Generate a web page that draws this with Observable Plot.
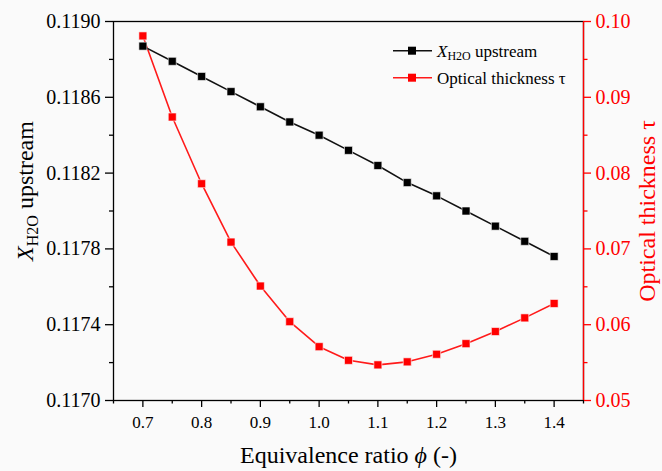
<!DOCTYPE html>
<html>
<head>
<meta charset="utf-8">
<script src="https://cdn.jsdelivr.net/npm/d3@7"></script>
<script src="https://cdn.jsdelivr.net/npm/@observablehq/plot@0.6"></script>
<style>
  html, body { margin: 0; padding: 0; background: #fafafa; }
  #chart svg { display: block; font-family: 'Liberation Serif', 'Times New Roman', serif !important; }
</style>
</head>
<body>
<div id="chart"></div>
<script>
// ---- data ----
const phi = [0.70, 0.75, 0.80, 0.85, 0.90, 0.95, 1.00, 1.05, 1.10, 1.15, 1.20, 1.25, 1.30, 1.35, 1.40];
const xH2O = [0.11887, 0.11879, 0.11871, 0.11863, 0.11855, 0.11847, 0.11840, 0.11832, 0.11824, 0.11815, 0.11808, 0.11800, 0.11792, 0.11784, 0.11776];
const tau = [0.0981, 0.0874, 0.0786, 0.0709, 0.0651, 0.0604, 0.0571, 0.0553, 0.0547, 0.0551, 0.0561, 0.0575, 0.0591, 0.0609, 0.0628];

const xTicks = [0.7, 0.8, 0.9, 1.0, 1.1, 1.2, 1.3, 1.4];
const xMinor = [0.65, 0.75, 0.85, 0.95, 1.05, 1.15, 1.25, 1.35, 1.45];
const yLeftTicks = [0.1170, 0.1174, 0.1178, 0.1182, 0.1186, 0.1190];
const yLeftMinor = [0.1172, 0.1176, 0.1180, 0.1184, 0.1188];
const yRightTicks = [0.05, 0.06, 0.07, 0.08, 0.09, 0.10];
const yRightMinor = [0.055, 0.065, 0.075, 0.085, 0.095];

const leftDomain = [0.1170, 0.1190];
const rightDomain = [0.05, 0.10];
const xDomain = [0.65, 1.45];

const xLabel = "Equivalence ratio \u03D5 (-)";
const yLeftLabel = "XH2O upstream";
const yRightLabel = "Optical thickness \u03C4";
const legendLabels = ["XH2O upstream", "Optical thickness \u03C4"];

// map right-axis values onto the left scale
const k = (leftDomain[1] - leftDomain[0]) / (rightDomain[1] - rightDomain[0]);
const toLeft = t => leftDomain[0] + (t - rightDomain[0]) * k;
const toRight = v => rightDomain[0] + (v - leftDomain[0]) / k;

const rowsX = phi.map((p, i) => ({phi: p, v: xH2O[i]}));
const rowsT = phi.map((p, i) => ({phi: p, v: toLeft(tau[i])}));

const FONT = "'Liberation Serif', 'Times New Roman', serif";

const chart = Plot.plot({
  width: 662,
  height: 471,
  marginLeft: 113,
  marginRight: 79,
  marginTop: 21,
  marginBottom: 71,
  style: {background: "#fafafa", color: "black"},
  x: {domain: xDomain},
  y: {domain: leftDomain},
  marks: [
    Plot.frame({stroke: "black", strokeWidth: 1.3}),
    Plot.ruleX([xDomain[1]], {stroke: "red", strokeWidth: 1.3}),
    // bottom axis
    Plot.axisX(xTicks, {tickSize: 7, tickPadding: 8, strokeWidth: 1.3, fontSize: 17, tickFormat: d => d.toFixed(1), label: null}),
    Plot.axisX(xMinor, {tickSize: 3.5, strokeWidth: 1.3, tickFormat: () => "", label: null}),
    // left axis
    Plot.axisY(yLeftTicks, {anchor: "left", tickSize: 8, tickPadding: 5, strokeWidth: 1.3, fontSize: 20, tickFormat: d => d.toFixed(4), label: null}),
    Plot.axisY(yLeftMinor, {anchor: "left", tickSize: 4, strokeWidth: 1.3, tickFormat: () => "", label: null}),
    // right axis (red)
    Plot.axisY(yRightTicks.map(toLeft), {anchor: "right", tickSize: 7, tickPadding: 5, strokeWidth: 1.3, fontSize: 20, stroke: "red", fill: "red", tickFormat: d => toRight(d).toFixed(2), label: null}),
    Plot.axisY(yRightMinor.map(toLeft), {anchor: "right", tickSize: 3.5, strokeWidth: 1.3, stroke: "red", tickFormat: () => "", label: null}),
    // series
    Plot.line(rowsT, {x: "phi", y: "v", stroke: "#ff1a1a", strokeWidth: 1.6}),
    Plot.dot(rowsT, {x: "phi", y: "v", symbol: "square", r: 4.5, fill: "red", stroke: "#fafafa", strokeWidth: 0.6}),
    Plot.line(rowsX, {x: "phi", y: "v", stroke: "#111", strokeWidth: 1.6}),
    Plot.dot(rowsX, {x: "phi", y: "v", symbol: "square", r: 4.5, fill: "black", stroke: "#fafafa", strokeWidth: 0.6}),
    // axis titles
    Plot.text([xLabel], {frameAnchor: "bottom", textAnchor: "middle", lineAnchor: "middle", dy: 55, fontSize: 24, fill: "black"}),
    Plot.text([yLeftLabel], {frameAnchor: "left", textAnchor: "middle", lineAnchor: "middle", dx: -88, dy: -20, rotate: -90, fontSize: 24, fill: "black"}),
    Plot.text([yRightLabel], {frameAnchor: "right", textAnchor: "middle", lineAnchor: "middle", dx: 64, dy: 0, rotate: -90, fontSize: 24, fill: "red"})
  ]
});

document.getElementById("chart").appendChild(chart);

const svg = d3.select(chart);
svg.attr("font-family", FONT).style("font-family", FONT);
svg.selectAll("g, text").attr("font-family", FONT);

// rich text for X_H2O labels
function richX(sel, subSize, rest) {
  sel.text(null);
  sel.append("tspan").attr("font-style", "italic").text("X");
  sel.append("tspan").attr("font-size", subSize).attr("dy", subSize * 0.3).text("H2O");
  sel.append("tspan").attr("dy", -subSize * 0.3).text(rest);
}
svg.selectAll("text").filter(function () { return this.textContent === yLeftLabel; })
  .each(function () { richX(d3.select(this), 16, " upstream"); });

// italic phi in the x title
svg.selectAll("text").filter(function () { return this.textContent === xLabel; })
  .each(function () {
    const s = d3.select(this);
    s.text(null);
    s.append("tspan").text("Equivalence ratio ");
    s.append("tspan").attr("font-style", "italic").text("\u03D5");
    s.append("tspan").text(" (-)");
  });

// legend
const legend = svg.append("g").attr("font-family", FONT).attr("font-size", 17).attr("text-anchor", "start");
const legendColors = ["black", "red"];
const legendLine = ["#111", "#ff1a1a"];
legendLabels.forEach((lab, i) => {
  const y = 50.7 + i * 27;
  const g = legend.append("g").attr("transform", `translate(0,${y})`);
  g.append("line").attr("x1", 393).attr("x2", 432).attr("y1", 0).attr("y2", 0)
    .attr("stroke", legendLine[i]).attr("stroke-width", 1.6);
  g.append("rect").attr("x", 412 - 4).attr("y", -4).attr("width", 8).attr("height", 8)
    .attr("fill", legendColors[i]);
  const t = g.append("text").attr("x", 437).attr("y", 6).attr("fill", "black").attr("text-anchor", "start");
  if (i === 0) richX(t, 12, " upstream"); else t.text(lab);
});
</script>
</body>
</html>
